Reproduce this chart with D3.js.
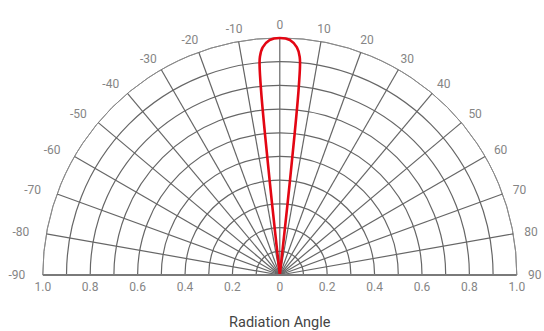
<!DOCTYPE html>
<html>
<head>
<meta charset="utf-8">
<script src="https://cdn.jsdelivr.net/npm/d3@7/dist/d3.min.js"></script>
<style>
  html, body { margin: 0; padding: 0; background: #ffffff; }
  svg { display: block; }
  text { font-family: Roboto, "Noto Sans", sans-serif; }
</style>
</head>
<body>
<svg id="chart" width="544" height="331"></svg>
<script>
// Angular grid: spoke angles and their labels (degrees)
const angleTicks = [-90, -80, -70, -60, -50, -40, -30, -20, -10, 0, 10, 20, 30, 40, 50, 60, 70, 80, 90];
// Radial grid rings (relative intensity)
const ringValues = [0.1, 0.2, 0.3, 0.4, 0.5, 0.6, 0.7, 0.8, 0.9, 1.0];
// Tick labels along the base line (signed position, shown as absolute value)
const baseTicks = [-1.0, -0.8, -0.6, -0.4, -0.2, 0, 0.2, 0.4, 0.6, 0.8, 1.0];
// Radiation pattern: angle (degrees) and relative intensity
const patternAngles = [-6.3, -6.2, -6.0, -5.8, -5.5, -5.2, -4.3, -2.5, 0, 2.5, 4.3, 5.2, 5.5, 5.8, 6.0, 6.2, 6.3];
const patternValues = [0, 0.30, 0.60, 0.78, 0.89, 0.925, 0.963, 0.992, 1.0, 0.992, 0.963, 0.925, 0.89, 0.78, 0.60, 0.30, 0];
const axisTitle = "Radiation Angle";

const svg = d3.select("#chart");
const cx = 279.8, cy = 275, R = 237;

const r = d3.scaleLinear().domain([0, 1]).range([0, R]);
const ang = d3.scaleLinear().domain([-90, 90]).range([-Math.PI / 2, Math.PI / 2]);
const xBase = d3.scaleLinear().domain([-1, 1]).range([cx - R, cx + R]);

const g = svg.append("g").attr("transform", `translate(${cx},${cy})`);

// rings (upper half circles)
const arc = d3.arc().startAngle(-Math.PI / 2).endAngle(Math.PI / 2);
g.selectAll("path.ring")
  .data(ringValues)
  .join("path")
  .attr("class", "ring")
  .attr("d", d => arc({ innerRadius: r(d), outerRadius: r(d) }))
  .attr("fill", "none")
  .attr("stroke", d => d === 1 ? "#8a8a8a" : "#666")
  .attr("stroke-width", d => d === 1 ? 1 : 1.2);

// spokes
const spokeAngles = angleTicks.filter(a => Math.abs(a) < 90);
g.selectAll("line.spoke")
  .data(spokeAngles)
  .join("line")
  .attr("class", "spoke")
  .attr("x1", 0).attr("y1", 0)
  .attr("x2", d => r(1) * Math.sin(ang(d)))
  .attr("y2", d => -r(1) * Math.cos(ang(d)))
  .attr("stroke", "#666")
  .attr("stroke-width", 1.2);

// base line
svg.append("line")
  .attr("x1", xBase(-1)).attr("x2", xBase(1))
  .attr("y1", cy).attr("y2", cy)
  .attr("stroke", "#7a7a7a")
  .attr("stroke-width", 2);

// angle labels sit just outside the outer ring; negative labels carry a
// minus sign, so they are pushed a little further out
const labelRx = d => d < 0 ? 263 : 255;
const labelRy = 250;
g.selectAll("text.ang")
  .data(angleTicks)
  .join("text")
  .attr("class", "ang")
  .attr("x", d => labelRx(d) * Math.sin(ang(d)))
  .attr("y", d => -labelRy * Math.cos(ang(d)))
  .attr("text-anchor", "middle")
  .attr("dominant-baseline", "central")
  .attr("font-size", 12)
  .attr("fill", "#858585")
  .text(d => d);

// base tick labels
svg.selectAll("text.base")
  .data(baseTicks)
  .join("text")
  .attr("class", "base")
  .attr("x", d => xBase(d))
  .attr("y", cy + 12)
  .attr("text-anchor", "middle")
  .attr("dominant-baseline", "central")
  .attr("font-size", 12)
  .attr("fill", "#858585")
  .text(d => d === 0 ? "0" : d3.format(".1f")(Math.abs(d)));

// radiation pattern
const pattern = patternAngles.map((a, i) => [ang(a), r(patternValues[i])]);
const radial = d3.lineRadial()
  .angle(d => d[0])
  .radius(d => d[1])
  .curve(d3.curveCatmullRom.alpha(0.5));
g.append("path")
  .attr("d", radial(pattern))
  .attr("fill", "none")
  .attr("stroke", "#e30613")
  .attr("stroke-width", 2.6)
  .attr("stroke-linejoin", "round");

// title
svg.append("text")
  .attr("x", cx)
  .attr("y", 322)
  .attr("text-anchor", "middle")
  .attr("dominant-baseline", "central")
  .attr("font-size", 14.5)
  .attr("fill", "#444")
  .text(axisTitle);
</script>
</body>
</html>
